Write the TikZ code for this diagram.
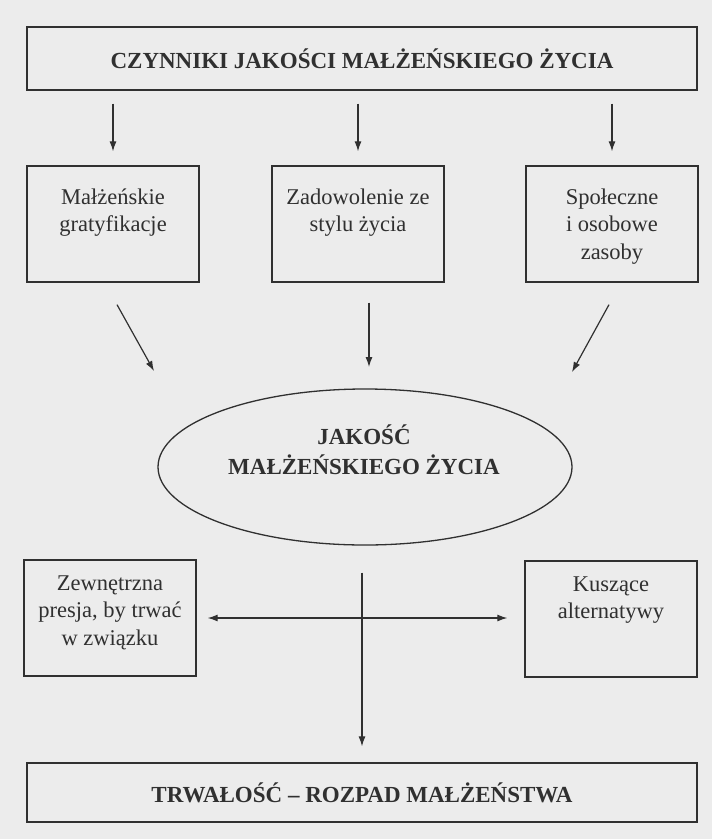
\documentclass[tikz,border=0pt]{standalone}
\usepackage{fontspec}
\setmainfont{Liberation Serif}
\usetikzlibrary{positioning,shapes.geometric,arrows.meta}
\definecolor{paper}{RGB}{236,236,236}
\definecolor{ink}{RGB}{48,48,48}
\begin{document}
\begin{tikzpicture}[x=1pt, y=-1pt,
    every node/.style={text=ink},
    frame/.style={draw=ink, line width=1.3pt, inner sep=0pt},
    wide/.style={frame, rectangle, minimum width=670pt, font=\fontsize{23}{28}\selectfont\bfseries},
    cell/.style={frame, rectangle, minimum width=172pt, minimum height=116pt},
    celltext/.style={inner sep=0pt, align=center, font=\fontsize{22.5}{27.5}\selectfont},
    tip/.style={-{Latex[length=10pt,width=7pt]}},
    arr/.style={draw=ink, line width=1.2pt, tip},
  ]
    \fill[paper] (0,0) rectangle (712,839);
    \useasboundingbox (0,0) rectangle (712,839);
    \node[wide, minimum height=63pt] (czynniki) at (362,58.5) {CZYNNIKI JAKOŚCI MAŁŻEŃSKIEGO ŻYCIA};
    \node[cell] (gratyf) at (113,224) {};
    \node[cell] (styl) at (358,224) {};
    \node[cell] (zasoby) at (612,224) {};
    \node[celltext, below=23pt of gratyf.north] (gratyf_t) {Małżeńskie\\gratyfikacje};
    \node[celltext, below=23pt of styl.north] (styl_t) {Zadowolenie ze\\stylu życia};
    \node[celltext, below=23pt of zasoby.north] (zasoby_t) {Społeczne\\i osobowe\\zasoby};
    \node[frame, ellipse, minimum width=414pt, minimum height=156pt] (jakosc) at (365,467) {};
    \node[inner sep=0pt, align=center, font=\fontsize{23}{30}\selectfont\bfseries] (jakosc_t) at (364,450) {JAKOŚĆ\\MAŁŻEŃSKIEGO ŻYCIA};
    \node[cell] (presja) at (110,618) {};
    \node[cell] (alternatywy) at (611,619) {};
    \node[celltext, below=16pt of presja.north] (presja_t) {Zewnętrzna\\presja, by trwać\\w związku};
    \node[celltext, below=16pt of alternatywy.north] (alternatywy_t) {Kuszące\\alternatywy};
    \node[wide, minimum height=59pt] (trwalosc) at (362,792.5) {TRWAŁOŚĆ – ROZPAD MAŁŻEŃSTWA};
    \coordinate (E_1) at (154,371);
    \coordinate (E_2) at (369,367);
    \coordinate (E_3) at (572,372);
    \draw[arr, shorten <=13pt, shorten >=14pt] (czynniki.south -| gratyf.north) -- (gratyf.north);
    \draw[arr, shorten <=13pt, shorten >=14pt] (czynniki.south -| styl.north) -- (styl.north);
    \draw[arr, shorten <=13pt, shorten >=14pt] (czynniki.south -| zasoby.north) -- (zasoby.north);
    \draw[arr] ([shift={(4,22)}]gratyf.south) -- (E_1);
    \draw[arr] ([shift={(11,20)}]styl.south) -- (E_2);
    \draw[arr] ([shift={(-3,22)}]zasoby.south) -- (E_3);
    \draw[arr, shorten <=27pt, shorten >=16pt] (trwalosc.north |- jakosc.south) -- (trwalosc.north);
    \draw[arr, {Latex[length=10pt,width=7pt]}-{Latex[length=10pt,width=7pt]}, shorten <=11pt, shorten >=17pt] (presja.east) -- (presja.east -| alternatywy.west);
\end{tikzpicture}
\end{document}
